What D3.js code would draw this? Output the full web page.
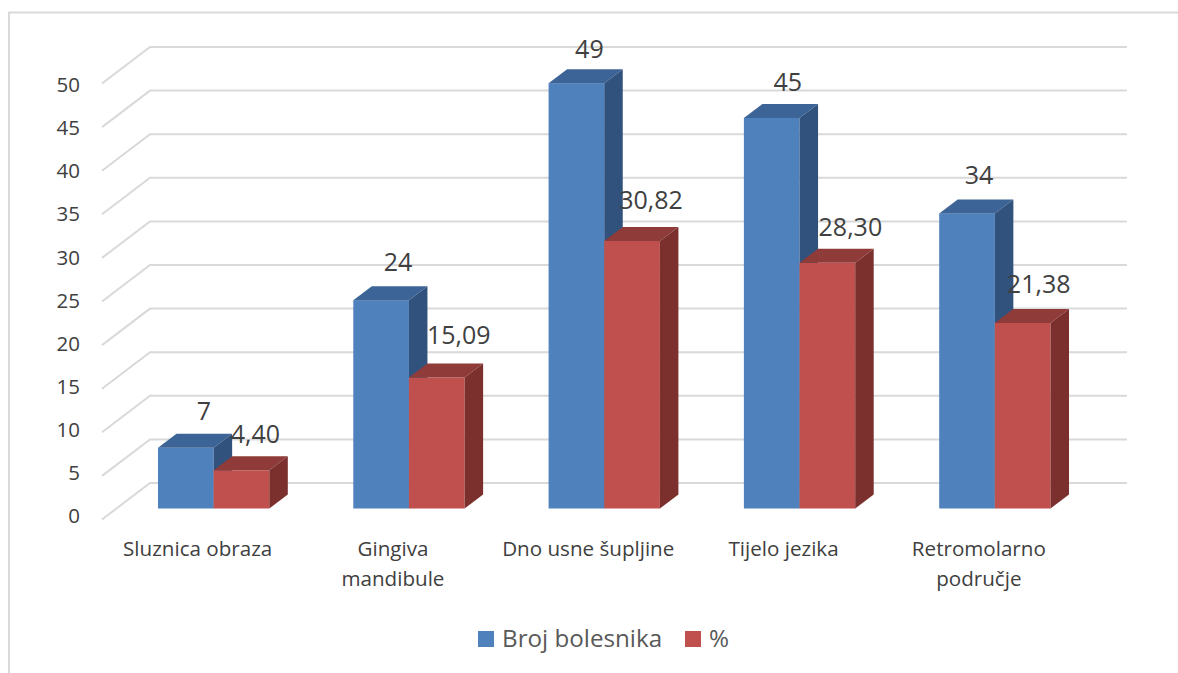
<!DOCTYPE html>
<html>
<head>
<meta charset="utf-8">
<script src="https://cdn.jsdelivr.net/npm/d3@7"></script>
<style>
  html, body { margin: 0; padding: 0; background: #fff; }
  svg { display: block; }
  text { font-family: "Open Sans", sans-serif; }
</style>
</head>
<body>
<div id="chart"></div>
<script>
var categories = [["Sluznica obraza"], ["Gingiva", "mandibule"], ["Dno usne šupljine"], ["Tijelo jezika"], ["Retromolarno", "područje"]];
var seriesNames = ["Broj bolesnika", "%"];
var brojBolesnika = [7, 24, 49, 45, 34];
var postotak = [4.40, 15.09, 30.82, 28.30, 21.38];
var yTicks = [0, 5, 10, 15, 20, 25, 30, 35, 40, 45, 50];

var width = 1178, height = 673;
var depthX = 18.5, depthY = 14;       // bar depth
var wallX = 48, wallY = 36.5;         // side wall of the 3d box

var svg = d3.select("#chart").append("svg")
    .attr("width", width)
    .attr("height", height);

// frame, cut off by the picture on the right and at the bottom
svg.append("path")
    .attr("d", "M9,673V12.5H1178")
    .attr("fill", "none")
    .attr("stroke", "#d9d9d9")
    .attr("stroke-width", 2);

// y scale of the back wall, bars use the same one moved to the front
var y = d3.scaleLinear().domain([0, 50]).range([483, 47]);
var yFront = d3.scaleLinear().domain([0, 50]).range([508.5, 74.5]);
var yLabel = d3.scaleLinear().domain([0, 50]).range([516, 85]);

var x = d3.scaleBand()
    .domain(d3.range(categories.length))
    .range([116, 1092.5])
    .paddingInner(0.43)
    .paddingOuter(0.215);

var xInner = d3.scaleBand()
    .domain([0, 1])
    .range([0, x.bandwidth()]);

// gridlines
svg.append("g").selectAll("path")
    .data(yTicks)
    .join("path")
    .attr("d", function(d) {
        return "M" + (150 - wallX) + "," + (y(d) + wallY) + "L150," + y(d) + "H1127";
    })
    .attr("fill", "none")
    .attr("stroke", "#d9d9d9")
    .attr("stroke-width", 2);

// y labels
svg.append("g").selectAll("text")
    .data(yTicks)
    .join("text")
    .attr("x", 80)
    .attr("y", function(d) { return yLabel(d); })
    .attr("text-anchor", "end")
    .attr("dy", "0.35em")
    .attr("font-size", 20.5)
    .attr("fill", "#404040")
    .text(function(d) { return d; });

var colors = [
    { front: "#4f81bd", top: "#3d6496", side: "#31527d" },
    { front: "#c0504d", top: "#8f3b39", side: "#7c302e" }
];

function drawSeries(values, s) {
    var g = svg.append("g");
    var c = colors[s];
    var w = xInner.bandwidth();

    values.forEach(function(v, i) {
        var bx = x(i) + xInner(s), top = yFront(v), base = yFront(0);
        g.append("rect")
            .attr("x", bx).attr("y", top)
            .attr("width", w).attr("height", base - top)
            .attr("fill", c.front);
        g.append("path")
            .attr("d", "M" + bx + "," + top + "l" + depthX + "," + (-depthY) + "h" + w + "l" + (-depthX) + "," + depthY + "z")
            .attr("fill", c.top);
        g.append("path")
            .attr("d", "M" + (bx + w) + "," + top + "l" + depthX + "," + (-depthY) + "V" + (base - depthY) + "L" + (bx + w) + "," + base + "z")
            .attr("fill", c.side);
    });
}

// red after blue so the blue side stays behind it
drawSeries(brojBolesnika, 0);
drawSeries(postotak, 1);

// labels were placed by hand in the original, so each one gets a small nudge
var nudgeX = [[1, 0, -4, -1, -5], [-3, 5, 2, 6, -1]];
var nudgeY = [[2, 0, 4, 2, 0], [2, -4, -3, 2, -1]];

function drawLabels(values, s, fmt) {
    svg.append("g").selectAll("text")
        .data(values)
        .join("text")
        .attr("x", function(d, i) { return x(i) + xInner(s) + xInner.bandwidth() / 2 + 17 + nudgeX[s][i]; })
        .attr("y", function(d, i) { return yFront(d) - 38 + nudgeY[s][i]; })
        .attr("text-anchor", "middle")
        .attr("dy", "0.35em")
        .attr("font-size", 25)
        .attr("fill", "#404040")
        .text(fmt);
}

drawLabels(brojBolesnika, 0, function(d) { return d; });
drawLabels(postotak, 1, function(d) { return d3.format(".2f")(d).replace(".", ","); });

// category labels
svg.append("g").selectAll("text")
    .data(categories)
    .join("text")
    .attr("x", function(d, i) { return x(i) + x.bandwidth() / 2 - 16; })
    .attr("y", 556)
    .attr("text-anchor", "middle")
    .attr("font-size", 20.6)
    .attr("fill", "#404040")
    .selectAll("tspan")
    .data(function(d) { return d; })
    .join("tspan")
    .attr("x", function() { return d3.select(this.parentNode).attr("x"); })
    .attr("dy", function(d, i) { return i ? 30 : 0; })
    .text(function(d) { return d; });

// legend
var legendX = [478, 685];
seriesNames.forEach(function(name, i) {
    svg.append("rect")
        .attr("x", legendX[i]).attr("y", 631)
        .attr("width", 16).attr("height", 16)
        .attr("fill", colors[i].front);
    svg.append("text")
        .attr("x", legendX[i] + 24).attr("y", 647)
        .attr("font-size", 24.2)
        .attr("fill", "#595959")
        .text(name);
});
</script>
</body>
</html>
